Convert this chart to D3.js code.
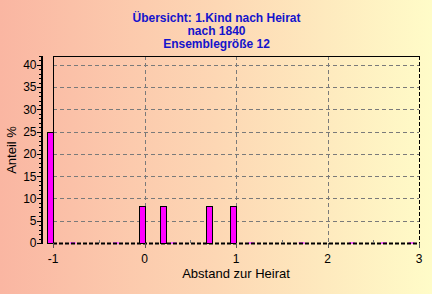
<!DOCTYPE html>
<html><head><meta charset="utf-8">
<script src="https://cdn.jsdelivr.net/npm/d3@7"></script>
<style>html,body{margin:0;padding:0;overflow:hidden;}svg{display:block;}</style>
</head><body>
<script>
const titleLines = ["Übersicht: 1.Kind nach Heirat", "nach 1840", "Ensemblegröße 12"];
const barX = [-1, 0, 0.23, 0.74, 1.0];
const barValues = [25, 8.33, 8.33, 8.33, 8.33];
const zeroX = [-0.75, -0.28, 0.35, 1.2, 1.75, 2.3, 2.65, 2.95];
const yTicks = [0, 5, 10, 15, 20, 25, 30, 35, 40];
const xTicks = [-1, 0, 1, 2, 3];
const xLabel = "Abstand zur Heirat";
const yLabel = "Anteil %";

const W = 432, H = 294;
const svg = d3.select("body").append("svg").attr("width", W).attr("height", H);
const defs = svg.append("defs");
const g0 = defs.append("linearGradient").attr("id","bg").attr("x1","0").attr("y1","0").attr("x2","1").attr("y2","0");
g0.append("stop").attr("offset","0").attr("stop-color","#fab6a2");
g0.append("stop").attr("offset","0.5").attr("stop-color","#fdd7b4");
g0.append("stop").attr("offset","1").attr("stop-color","#fffcc8");
svg.append("rect").attr("width",W).attr("height",H).attr("fill","url(#bg)");

const x = d3.scaleLinear().domain([-1, 3]).range([53, 419]);
const y = d3.scaleLinear().domain([0, 42]).range([243, 56]);
const font = "Liberation Sans, Arial, sans-serif";

// title
svg.append("g").selectAll("text").data(titleLines).join("text")
  .attr("x", 216.5).attr("y", (d,i) => 22 + i*13)
  .attr("text-anchor","middle").attr("font-family",font).attr("font-weight","bold")
  .attr("font-size","12px").attr("fill","#1414cc").text(d => d);

// grid
const grid = svg.append("g").attr("stroke","#7a7a7a").attr("stroke-dasharray","4,3").attr("stroke-width",1);
grid.selectAll("line.h").data(yTicks.filter(v => v > 0)).join("line")
  .attr("x1", x(-1)).attr("x2", x(3)).attr("y1", d => Math.round(y(d))+0.5).attr("y2", d => Math.round(y(d))+0.5);
grid.selectAll("line.v").data(xTicks.filter(v => v > -1 && v < 3)).join("line")
  .attr("x1", d => Math.round(x(d))+0.5).attr("x2", d => Math.round(x(d))+0.5).attr("y1", y(42)).attr("y2", y(0));

// frame
const fr = svg.append("g").attr("stroke","#000").attr("stroke-width",1).attr("fill","none");
fr.append("line").attr("x1", x(-1)).attr("x2", x(3)+0.5).attr("y1", Math.round(y(42))+0.5).attr("y2", Math.round(y(42))+0.5);
fr.append("line").attr("x1", Math.round(x(-1))+0.5).attr("x2", Math.round(x(-1))+0.5).attr("y1", y(42)).attr("y2", y(0));
fr.append("line").attr("x1", Math.round(x(3))+0.5).attr("x2", Math.round(x(3))+0.5).attr("y1", y(42)).attr("y2", y(0)).attr("stroke-dasharray","4,2");

// zero bars
const bw = 0.065;
svg.append("g").selectAll("rect").data(zeroX).join("rect")
  .attr("x", d => x(d - bw)).attr("width", d => x(d) - x(d - bw))
  .attr("y", y(0) - 1).attr("height", 2).attr("fill", "#ff66ff");

// bottom axis line (dashed)
svg.append("line").attr("x1", x(-1)).attr("x2", x(3)).attr("y1", Math.round(y(0))+0.5).attr("y2", Math.round(y(0))+0.5)
  .attr("stroke","#000").attr("stroke-width",2).attr("stroke-dasharray","4,2");

// bars
svg.append("g").selectAll("rect").data(barX.map((v,i) => ({x:v, v:barValues[i]}))).join("rect")
  .attr("x", d => Math.round(x(d.x - bw)) + 0.5)
  .attr("width", d => Math.round(x(d.x)) - Math.round(x(d.x - bw)))
  .attr("y", d => Math.round(y(d.v)) + 0.5)
  .attr("height", d => Math.round(y(0)) - Math.round(y(d.v)))
  .attr("fill","#ff00ff").attr("stroke","#000").attr("stroke-width",1);

// left axis
const axisX = 42;
svg.append("line").attr("x1", axisX).attr("x2", axisX).attr("y1", y(42)).attr("y2", y(0)+1)
  .attr("stroke","#000").attr("stroke-width",2);
svg.append("g").selectAll("line").data(d3.range(0, 43, 1)).join("line")
  .attr("x1", d => d % 5 === 0 ? axisX - 5 : axisX - 3).attr("x2", axisX)
  .attr("y1", d => Math.round(y(d))+0.5).attr("y2", d => Math.round(y(d))+0.5)
  .attr("stroke","#000").attr("stroke-width",1);
svg.append("g").selectAll("text").data(yTicks).join("text")
  .attr("x", 36.5).attr("y", d => y(d) + 4.3).attr("text-anchor","end")
  .attr("font-family",font).attr("font-size","12px").attr("fill","#000").text(d => d);

// bottom ticks
svg.append("g").selectAll("line").data(xTicks).join("line")
  .attr("x1", d => Math.round(x(d))+0.5).attr("x2", d => Math.round(x(d))+0.5)
  .attr("y1", y(0)).attr("y2", y(0)+5).attr("stroke","#555");
svg.append("g").selectAll("line").data([-0.5,0.5,1.5,2.5]).join("line")
  .attr("x1", d => Math.round(x(d))+0.5).attr("x2", d => Math.round(x(d))+0.5)
  .attr("y1", y(0)-3).attr("y2", y(0)).attr("stroke","#777");
svg.append("g").selectAll("text").data(xTicks).join("text")
  .attr("x", d => x(d)).attr("y", 263).attr("text-anchor","middle")
  .attr("font-family",font).attr("font-size","12px").attr("fill","#000").text(d => d);

// axis labels
svg.append("text").attr("x", 236).attr("y", 278).attr("text-anchor","middle")
  .attr("font-family",font).attr("font-size","13px").attr("fill","#000").text(xLabel);
svg.append("text").attr("transform","translate(16,150) rotate(-90)").attr("text-anchor","middle")
  .attr("font-family",font).attr("font-size","13px").attr("fill","#000").text(yLabel);
</script>
</body></html>
